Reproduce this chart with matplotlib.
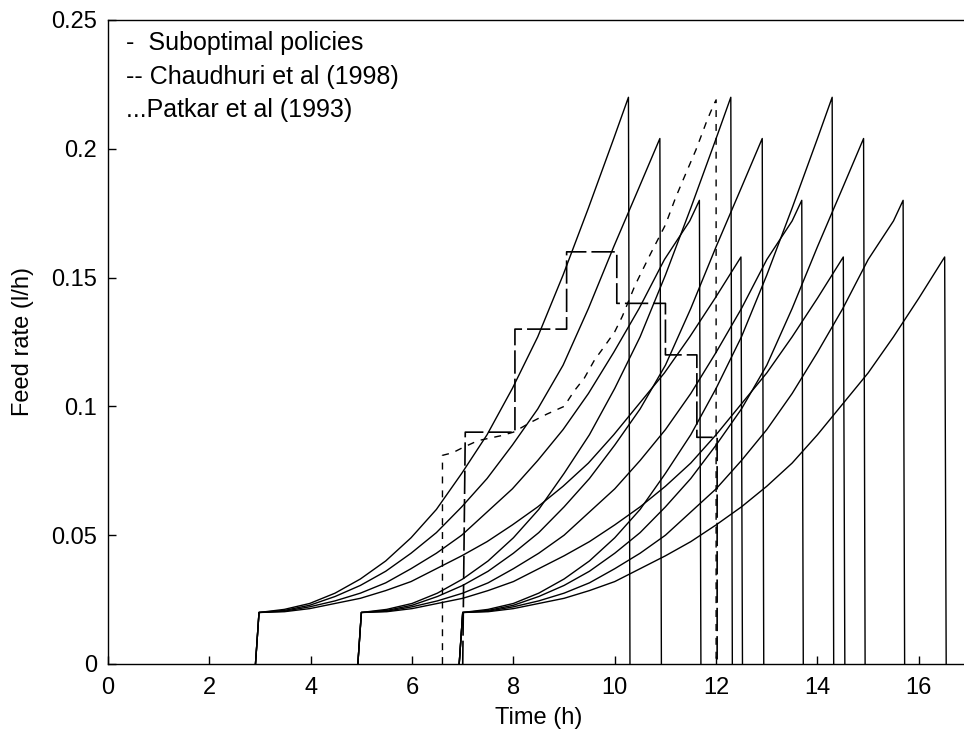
import matplotlib
matplotlib.use("Agg")
import matplotlib.pyplot as plt
import numpy as np

plt.rcParams['font.family'] = ['Liberation Sans', 'DejaVu Sans']

# start of the three groups of suboptimal policies (h)
group_starts = [2.98, 5.0, 7.0]

# suboptimal feed profiles, time since start (h) vs feed rate (l/h)
dt_a = [0, 0.5, 1, 1.5, 2, 2.5, 3, 3.5, 4, 4.5, 5, 5.5, 6, 6.5, 7, 7.29]
f_a = [0.020, 0.0212, 0.0235, 0.0275, 0.033, 0.040, 0.049, 0.060, 0.074,
       0.089, 0.107, 0.127, 0.151, 0.177, 0.204, 0.220]

dt_b = [0, 0.5, 1, 1.5, 2, 2.5, 3, 3.5, 4, 4.5, 5, 5.5, 6, 6.5, 7, 7.5, 7.91]
f_b = [0.020, 0.0208, 0.0228, 0.0262, 0.0305, 0.036, 0.043, 0.051, 0.061,
       0.072, 0.085, 0.099, 0.116, 0.138, 0.162, 0.185, 0.204]

dt_c = [0, 0.5, 1, 1.5, 2, 2.5, 3, 3.5, 4, 4.5, 5, 5.5, 6, 6.5, 7, 7.5, 8,
        8.5, 8.69]
f_c = [0.020, 0.0205, 0.0222, 0.0245, 0.0275, 0.0315, 0.037, 0.043, 0.050,
       0.059, 0.068, 0.079, 0.091, 0.105, 0.121, 0.138, 0.157, 0.172, 0.180]

dt_d = [0, 0.5, 1, 1.5, 2, 2.5, 3, 3.5, 4, 4.5, 5, 5.5, 6, 6.5, 7, 7.5, 8,
        8.5, 9, 9.51]
f_d = [0.020, 0.0203, 0.0215, 0.0235, 0.0255, 0.0285, 0.032, 0.037, 0.042,
       0.0475, 0.054, 0.061, 0.069, 0.078, 0.089, 0.101, 0.113, 0.127, 0.142,
       0.158]

profiles = [(dt_a, f_a), (dt_b, f_b), (dt_c, f_c), (dt_d, f_d)]

# Chaudhuri et al (1998)
chaud_t = [6.6, 6.6, 6.8, 7.0, 7.3, 7.75, 8.0, 8.36, 8.66, 9.0, 9.2, 9.4,
           9.6, 9.8, 10.0, 10.15, 10.4, 10.7, 11.0, 11.2, 11.35, 11.6, 11.7,
           11.82, 11.95, 12.0, 12.0]
chaud_f = [0, 0.081, 0.082, 0.084, 0.0867, 0.0886, 0.090, 0.094, 0.097,
           0.100, 0.106, 0.111, 0.118, 0.1234, 0.129, 0.135, 0.147, 0.159,
           0.1705, 0.181, 0.188, 0.1995, 0.2047, 0.211, 0.217, 0.219, 0]

# Patkar et al (1993), piecewise constant
patkar_t = [7.0, 7.05, 8.03, 8.03, 9.05, 9.05, 10.04, 10.04, 11.0, 11.0,
            11.62, 11.62, 12.02, 12.02]
patkar_f = [0, 0.09, 0.09, 0.13, 0.13, 0.16, 0.16, 0.14, 0.14, 0.12, 0.12,
            0.088, 0.088, 0]

legend_lines = ["-  Suboptimal policies",
                "-- Chaudhuri et al (1998)",
                "...Patkar et al (1993)"]

fig = plt.figure(figsize=(9.64, 7.34), dpi=100)
ax = fig.add_axes([108 / 964, 70 / 734, 861.5 / 964, 644 / 734])

for t0 in group_starts:
    for dt, f in profiles:
        t = np.r_[t0 - 0.07, t0 + np.array(dt), t0 + dt[-1] + 0.03]
        F = np.r_[0, f, 0]
        ax.plot(t, F, color="k", lw=1)

ax.plot(chaud_t, chaud_f, color="k", lw=1, linestyle=(0, (5, 5)))
ax.plot(patkar_t, patkar_f, color="k", lw=1.2, linestyle=(0, (14, 3)))

for i, txt in enumerate(legend_lines):
    ax.text(0.021, 0.964 - i * 0.052, txt, transform=ax.transAxes,
            fontsize=18, va="center", ha="left")

ax.set_xlim(0, 17)
ax.set_ylim(0, 0.25)
ax.set_xticks(np.arange(0, 17, 2))
ax.set_yticks([0, 0.05, 0.1, 0.15, 0.2, 0.25])
ax.set_yticklabels(["0", "0.05", "0.1", "0.15", "0.2", "0.25"])
ax.tick_params(direction="in", length=6, width=1, labelsize=17,
               top=False, right=False)
ax.tick_params(axis="x", pad=9)
ax.tick_params(axis="y", pad=8)
for s in ax.spines.values():
    s.set_linewidth(1)

ax.set_xlabel("Time (h)", fontsize=17, labelpad=6)
ax.set_ylabel("Feed rate (l/h)", fontsize=17, labelpad=12)

fig.savefig("out.png", dpi=100)
